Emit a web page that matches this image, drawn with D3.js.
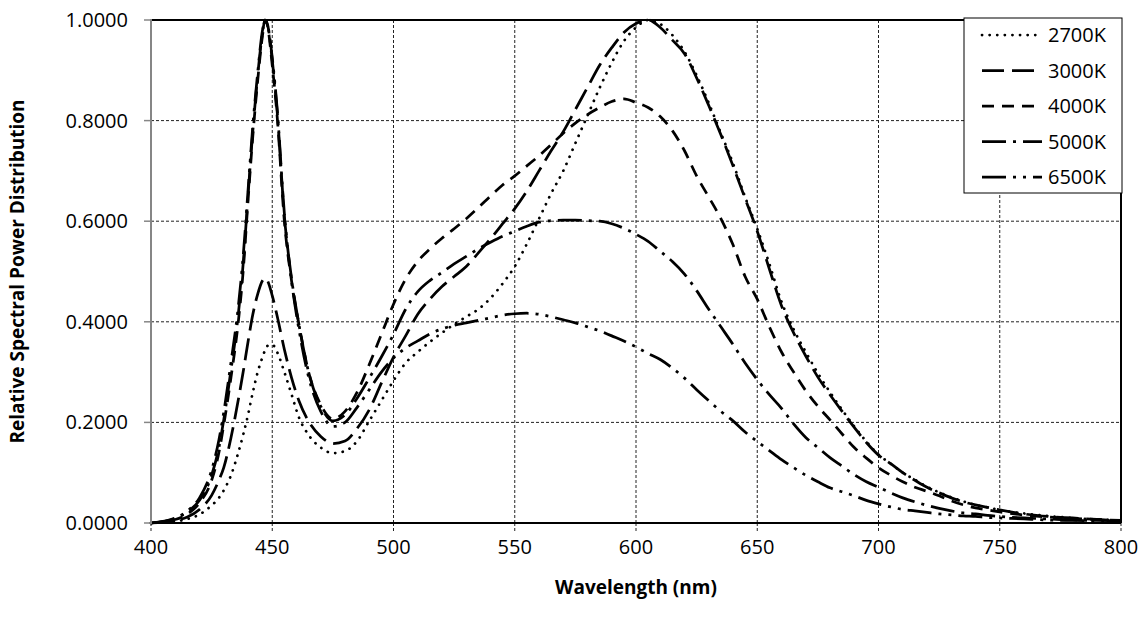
<!DOCTYPE html>
<meta charset="utf-8">
<style>
    body { margin: 0; background: #fff; }
    text { font-family: "Open Sans", sans-serif; fill: #000; }
    .grid line { stroke: #222; stroke-width: 1; stroke-dasharray: 3,2; }
    .series path { fill: none; stroke: #000; stroke-width: 2.75; }
</style>
<svg id="chart" width="1146" height="617"></svg>
<script src="https://cdn.jsdelivr.net/npm/d3@7/dist/d3.min.js"></script>
<script>

    // wavelength grid (nm) shared by all series
    var wavelengths = [
        400, 410, 415, 420, 425, 428, 430, 433, 436, 438, 440, 442, 444, 446, 447, 448, 450, 452, 455, 458, 461, 465, 470, 475, 480, 485, 490, 495,
        500, 505, 510, 515, 520, 525, 530, 535, 540, 545,
        550, 555, 560, 565, 570, 575, 580, 585, 590, 595,
        600, 605, 610, 615, 620, 625, 630, 635, 640, 645,
        650, 655, 660, 665, 670, 675, 680, 685, 690, 695,
        700, 705, 710, 715, 720, 725, 730, 735, 740, 745,
        750, 760, 770, 780, 790, 800
    ];

    var spd2700 = [
        0.000, 0.003, 0.008, 0.017, 0.035, 0.050, 0.065, 0.095, 0.140, 0.175, 0.215, 0.260, 0.300, 0.330, 0.343, 0.352, 0.355, 0.340, 0.300, 0.255, 0.210, 0.175, 0.150, 0.139, 0.143, 0.163, 0.203, 0.243,
        0.283, 0.318, 0.340, 0.360, 0.378, 0.395, 0.410, 0.425, 0.447, 0.476,
        0.510, 0.555, 0.605, 0.655, 0.700, 0.755, 0.810, 0.865, 0.915, 0.958,
        0.985, 1.000, 0.992, 0.970, 0.937, 0.890, 0.835, 0.775, 0.715, 0.648,
        0.585, 0.515, 0.440, 0.385, 0.340, 0.298, 0.260, 0.225, 0.192, 0.162,
        0.136, 0.118, 0.100, 0.086, 0.072, 0.061, 0.051, 0.043, 0.036, 0.031,
        0.026, 0.019, 0.014, 0.010, 0.007, 0.005
    ];

    var spd3000 = [
        0.000, 0.005, 0.012, 0.027, 0.055, 0.085, 0.110, 0.170, 0.245, 0.300, 0.360, 0.415, 0.455, 0.482, 0.487, 0.482, 0.452, 0.412, 0.345, 0.288, 0.243, 0.202, 0.172, 0.158, 0.163, 0.188, 0.225, 0.278,
        0.330, 0.372, 0.415, 0.445, 0.470, 0.490, 0.510, 0.537, 0.565, 0.595,
        0.625, 0.660, 0.700, 0.740, 0.778, 0.822, 0.866, 0.910, 0.945, 0.975,
        0.993, 1.000, 0.985, 0.960, 0.933, 0.885, 0.830, 0.772, 0.710, 0.645,
        0.580, 0.505, 0.432, 0.378, 0.332, 0.290, 0.255, 0.222, 0.190, 0.160,
        0.135, 0.118, 0.100, 0.085, 0.071, 0.060, 0.050, 0.042, 0.036, 0.031,
        0.026, 0.018, 0.013, 0.010, 0.007, 0.005
    ];

    var spd4000 = [
        0.000, 0.007, 0.018, 0.040, 0.085, 0.140, 0.195, 0.290, 0.400, 0.500, 0.640, 0.770, 0.880, 0.970, 1.000, 0.990, 0.910, 0.810, 0.600, 0.480, 0.395, 0.300, 0.235, 0.207, 0.222, 0.260, 0.315, 0.375,
        0.435, 0.485, 0.520, 0.545, 0.566, 0.585, 0.605, 0.627, 0.650, 0.672,
        0.690, 0.710, 0.730, 0.752, 0.775, 0.795, 0.812, 0.826, 0.838, 0.843,
        0.836, 0.826, 0.808, 0.780, 0.740, 0.690, 0.648, 0.605, 0.553, 0.490,
        0.445, 0.390, 0.340, 0.300, 0.263, 0.232, 0.205, 0.177, 0.150, 0.129,
        0.110, 0.095, 0.082, 0.071, 0.063, 0.054, 0.044, 0.036, 0.030, 0.026,
        0.022, 0.016, 0.012, 0.009, 0.007, 0.005
    ];

    var spd5000 = [
        0.000, 0.009, 0.022, 0.045, 0.095, 0.150, 0.205, 0.305, 0.415, 0.515, 0.650, 0.780, 0.890, 0.975, 1.000, 0.992, 0.920, 0.820, 0.610, 0.485, 0.395, 0.300, 0.232, 0.203, 0.215, 0.248, 0.288, 0.330,
        0.375, 0.425, 0.460, 0.482, 0.498, 0.515, 0.530, 0.545, 0.558, 0.570,
        0.580, 0.590, 0.598, 0.601, 0.602, 0.602, 0.601, 0.600, 0.595, 0.586,
        0.574, 0.560, 0.540, 0.520, 0.495, 0.462, 0.425, 0.390, 0.355, 0.318,
        0.285, 0.255, 0.228, 0.197, 0.170, 0.150, 0.130, 0.113, 0.096, 0.082,
        0.071, 0.060, 0.050, 0.042, 0.035, 0.029, 0.024, 0.020, 0.018, 0.015,
        0.013, 0.010, 0.008, 0.006, 0.005, 0.004
    ];

    var spd6500 = [
        0.000, 0.010, 0.024, 0.050, 0.105, 0.165, 0.220, 0.320, 0.430, 0.530, 0.660, 0.790, 0.895, 0.980, 1.000, 0.992, 0.925, 0.825, 0.615, 0.480, 0.385, 0.290, 0.222, 0.192, 0.200, 0.230, 0.265, 0.300,
        0.328, 0.348, 0.362, 0.376, 0.386, 0.393, 0.398, 0.403, 0.408, 0.413,
        0.416, 0.417, 0.415, 0.410, 0.404, 0.398, 0.390, 0.382, 0.372, 0.362,
        0.350, 0.337, 0.325, 0.308, 0.288, 0.265, 0.243, 0.222, 0.203, 0.181,
        0.162, 0.144, 0.126, 0.110, 0.095, 0.082, 0.070, 0.062, 0.054, 0.045,
        0.038, 0.032, 0.027, 0.024, 0.021, 0.018, 0.016, 0.014, 0.013, 0.011,
        0.010, 0.008, 0.006, 0.005, 0.004, 0.003
    ];

    var seriesNames = ["2700K", "3000K", "4000K", "5000K", "6500K"];
    var seriesValues = [spd2700, spd3000, spd4000, spd5000, spd6500];
    var dashes = ["0.1,7.5", "22,8", "12,8", "24,7,3,7", "24,7,3,7,3,7"];

    var xTicks = [400, 450, 500, 550, 600, 650, 700, 750, 800];
    var yTicks = [0, 0.2, 0.4, 0.6, 0.8, 1.0];

    var svg = d3.select("#chart");

    var x = d3.scaleLinear().domain([400, 800]).range([151, 1121]);
    var y = d3.scaleLinear().domain([0, 1]).range([523, 20]);

    // gridlines
    var grid = svg.append("g").attr("class", "grid");
    grid.selectAll(".h")
        .data(yTicks.filter(function(d) { return d > 0 && d < 1; }))
        .enter().append("line")
        .attr("x1", x(400)).attr("x2", x(800))
        .attr("y1", function(d) { return y(d); })
        .attr("y2", function(d) { return y(d); });
    grid.selectAll(".v")
        .data(xTicks.filter(function(d) { return d > 400 && d < 800; }))
        .enter().append("line")
        .attr("y1", y(0)).attr("y2", y(1))
        .attr("x1", function(d) { return x(d); })
        .attr("x2", function(d) { return x(d); });

    // tick marks below x axis (dashed, as in the gridlines)
    grid.selectAll(".xt")
        .data(xTicks)
        .enter().append("line")
        .attr("y1", y(0)).attr("y2", y(0) + 8)
        .attr("x1", function(d) { return x(d); })
        .attr("x2", function(d) { return x(d); });

    // y tick marks
    svg.append("g").selectAll("line")
        .data(yTicks)
        .enter().append("line")
        .attr("x1", x(400) - 7).attr("x2", x(400))
        .attr("y1", function(d) { return y(d); })
        .attr("y2", function(d) { return y(d); })
        .style("stroke", "#868686")
        .style("stroke-width", 1.5);

    // series
    var line = d3.line()
        .x(function(d) { return x(d[0]); })
        .y(function(d) { return y(d[1]); })
        .curve(d3.curveMonotoneX);

    svg.append("g").attr("class", "series")
        .selectAll("path")
        .data(seriesValues)
        .enter().append("path")
        .attr("d", function(vals) {
            return line(wavelengths.map(function(w, i) { return [w, vals[i]]; }));
        })
        .style("stroke-dasharray", function(d, i) { return dashes[i]; })
        .style("stroke-linecap", function(d, i) { return i === 0 ? "round" : "butt"; });

    // plot frame
    svg.append("line")
        .attr("x1", x(400)).attr("x2", x(800)).attr("y1", y(1)).attr("y2", y(1))
        .style("stroke", "#000").style("stroke-width", 2);
    svg.append("line")
        .attr("x1", x(800)).attr("x2", x(800)).attr("y1", y(1)).attr("y2", y(0))
        .style("stroke", "#000").style("stroke-width", 2);
    svg.append("line")
        .attr("x1", x(400)).attr("x2", x(800)).attr("y1", y(0)).attr("y2", y(0))
        .style("stroke", "#000").style("stroke-width", 2);
    svg.append("line")
        .attr("x1", x(400)).attr("x2", x(400)).attr("y1", y(1) - 1).attr("y2", y(0) + 1)
        .style("stroke", "#868686").style("stroke-width", 2);

    // tick labels
    svg.append("g").selectAll("text")
        .data(xTicks)
        .enter().append("text")
        .attr("x", function(d) { return x(d); })
        .attr("y", 554)
        .attr("text-anchor", "middle")
        .style("font-size", "20px")
        .text(function(d) { return d; });

    svg.append("g").selectAll("text")
        .data(yTicks)
        .enter().append("text")
        .attr("x", 128)
        .attr("y", function(d) { return y(d); })
        .attr("dy", "0.35em")
        .attr("text-anchor", "end")
        .style("font-size", "20px")
        .text(function(d) { return d.toFixed(4); });

    // axis titles
    svg.append("text")
        .attr("x", (x(400) + x(800)) / 2)
        .attr("y", 594)
        .attr("text-anchor", "middle")
        .style("font-size", "19px")
        .style("font-weight", "bold")
        .text("Wavelength (nm)");

    svg.append("text")
        .attr("transform", "translate(24," + ((y(0) + y(1)) / 2) + ") rotate(-90)")
        .attr("text-anchor", "middle")
        .style("font-size", "19px")
        .style("font-weight", "bold")
        .text("Relative Spectral Power Distribution");

    // legend
    var legend = svg.append("g");
    legend.append("rect")
        .attr("x", 964).attr("y", 18)
        .attr("width", 158).attr("height", 175)
        .style("fill", "#fff")
        .style("stroke", "#000")
        .style("stroke-width", 1);

    var items = legend.selectAll("g.item")
        .data(seriesNames)
        .enter().append("g")
        .attr("class", "item")
        .attr("transform", function(d, i) { return "translate(0," + (35 + i * 35.5) + ")"; });

    items.append("line")
        .attr("x1", 982).attr("x2", 1042)
        .attr("y1", 0).attr("y2", 0)
        .style("stroke", "#000")
        .style("stroke-width", 2.75)
        .style("stroke-dasharray", function(d, i) { return dashes[i]; })
        .style("stroke-linecap", function(d, i) { return i === 0 ? "round" : "butt"; });

    items.append("text")
        .attr("x", 1048)
        .attr("y", 0)
        .attr("dy", "0.35em")
        .style("font-size", "20px")
        .text(function(d) { return d; });

</script>
